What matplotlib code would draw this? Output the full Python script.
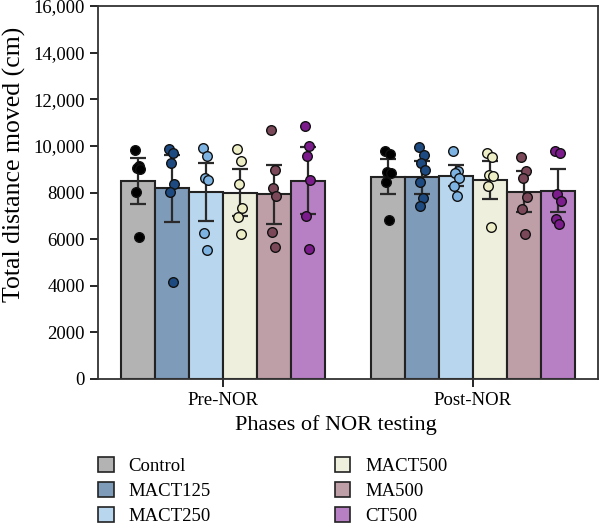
import matplotlib.pyplot as plt
import numpy as np
from matplotlib.ticker import FuncFormatter
from matplotlib.patches import Patch

plt.rcParams['font.family'] = ['Liberation Serif', 'DejaVu Serif']

phases = ['Pre-NOR', 'Post-NOR']
groups = ['Control', 'MACT125', 'MACT250', 'MACT500', 'MA500', 'CT500']

# mean values (cm)
means_pre = [8500, 8180, 8020, 7990, 7920, 8510]
means_post = [8680, 8650, 8720, 8550, 8035, 8080]

# error bars (sd)
sd_pre = [980, 1440, 1260, 1000, 1255, 1425]
sd_post = [765, 710, 450, 820, 880, 915]

# individual animals
pts_pre = [
    [9820, 9140, 9040, 9000, 8035, 6100],
    [9870, 9710, 9250, 8365, 8020, 4150],
    [9900, 9580, 8640, 8540, 6280, 5530],
    [9850, 9350, 8365, 7320, 6940, 6220],
    [10700, 8970, 8210, 7850, 6290, 5680],
    [10850, 10000, 9570, 8540, 6990, 5560],
]
pts_post = [
    [9790, 9650, 8890, 8820, 8440, 6820],
    [9970, 9610, 9280, 8970, 8470, 7750, 7420],
    [9790, 8940, 8820, 8640, 8280, 7850],
    [9710, 9510, 8750, 8710, 8280, 6510],
    [9510, 8940, 8610, 7790, 7280, 6210],
    [9790, 9680, 7940, 7650, 6850, 6650],
]

bar_colors = ['#b3b3b3', '#7f9bba', '#b8d6ee', '#eeefdc', '#be9fa8', '#b880c4']
dot_colors = ['#000000', '#1d4a80', '#7db3e2', '#eeeec6', '#7a4859', '#7b1b8c']

fig = plt.figure(figsize=(6, 5.28), dpi=100)
ax = fig.add_axes([0.1633, 0.2822, 0.8334, 0.7064])

bw = 0.136
n = len(groups)
jit = [-0.012, 0.006, -0.003, 0.01, -0.008, 0.003, -0.01]

for p, (means, sds, pts) in enumerate([(means_pre, sd_pre, pts_pre), (means_post, sd_post, pts_post)]):
    for i in range(n):
        x = p + (i - (n - 1) / 2) * bw
        ax.bar(x, means[i], width=bw, color=bar_colors[i], edgecolor='#222222', linewidth=1.5, zorder=2)
        ax.errorbar(x, means[i], yerr=sds[i], color='#2a2a2a', capsize=5.5, elinewidth=1.6,
                    capthick=1.6, zorder=3)
        xs = [x + jit[k % len(jit)] for k in range(len(pts[i]))]
        ax.scatter(xs, pts[i], s=48, color=dot_colors[i], edgecolor='#111111', linewidth=1.0, zorder=4)

ax.set_xlim(-0.5, 1.5)
ax.set_ylim(0, 16000)
ax.set_yticks(np.arange(0, 16001, 2000))
ax.yaxis.set_major_formatter(FuncFormatter(lambda v, _: f'{int(v):,}' if v >= 10000 else f'{int(v)}'))
ax.set_xticks([0, 1])
ax.set_xticklabels(phases)
ax.tick_params(labelsize=13.5, width=1.2, length=6)
for s in ax.spines.values():
    s.set_linewidth(1.3)
    s.set_color('#333333')

ax.set_ylabel('Total distance moved (cm)', fontsize=18.5)
ax.yaxis.set_label_coords(-0.143, 0.575)
ax.set_xlabel('Phases of NOR testing', fontsize=16)
ax.xaxis.set_label_coords(0.476, -0.097)

handles = [Patch(facecolor=c, edgecolor='#222222', linewidth=1.2) for c in bar_colors]
fig.legend(handles, groups, loc='upper left', bbox_to_anchor=(0.147, 0.152), ncol=2,
           frameon=False, fontsize=13.5, handlelength=0.85, handleheight=0.85,
           columnspacing=6.6, labelspacing=0.38, borderpad=0, handletextpad=0.8)

fig.savefig('out.png', dpi=100)
